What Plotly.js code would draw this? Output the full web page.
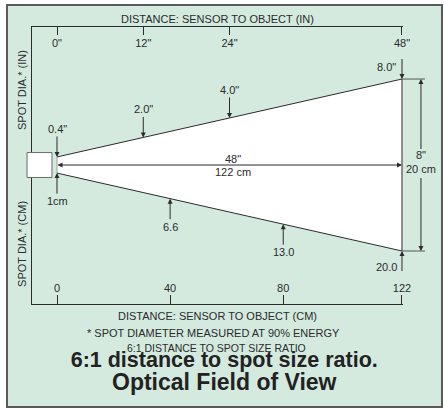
<!DOCTYPE html>
<html><head><meta charset="utf-8">
<script src="https://cdn.plot.ly/plotly-3.0.1.min.js"></script>
<style>html,body{margin:0;padding:0;background:#fff}#chart{width:444px;height:410px}</style>
</head><body><div id="chart"></div>
<script>
// ---------------- data ----------------
const distIn = [0, 12, 24, 48];
const distInLabels = ['0"', '12"', '24"', '48"'];
const distCm = [0, 40, 80, 122];
const distCmLabels = ['0', '40', '80', '122'];
const spotIn = [0.4, 2.0, 4.0, 8.0];          // spot diameter (in) at distIn
const spotInLabels = ['0.4"', '2.0"', '4.0"', '8.0"'];
const spotCm = [1, 6.6, 13.0, 20.0];           // spot diameter (cm) at distCm
const spotCmLabels = ['1cm', '6.6', '13.0', '20.0'];
const rangeLabels = ['48"', '122 cm'];
const fovLabels = ['8"', '20 cm'];

// ---------------- layout / style constants ----------------
const FONT = 'Liberation Sans, Arial, Helvetica, sans-serif';
const INK = '#2b2b2b', BG = '#d4eadf';
const xr = [-3.48, 48.14];                      // inch axis range
const cmPerIn = distCm[distCm.length - 1] / distIn[distIn.length - 1];
const xr2 = [xr[0] * cmPerIn, xr[1] * cmPerIn]; // cm axis range
const yr = [-6.465, 6.42];                      // spot diameter axis (in)
const aperture = 0.75;                          // drawn aperture (schematic)
const maxD = distIn[distIn.length - 1];
const endD = spotIn[spotIn.length - 1];
const half = x => (aperture + (endD - aperture) * x / maxD) / 2;
const toPx = v => (v - xr[0]) / (xr[1] - xr[0]);
const toPy = v => (v - yr[0]) / (yr[1] - yr[0]);
const dimOff = 2.64, extOff = 3.2;

// ---------------- traces ----------------
const coneX = [0, maxD, maxD, 0];
const coneY = [half(0), half(maxD), -half(maxD), -half(0)];
const traces = [
  {x: coneX, y: coneY, mode: 'lines', fill: 'toself', fillcolor: '#ffffff',
   line: {width: 0, color: 'rgba(0,0,0,0)'}, hoverinfo: 'skip', showlegend: false},
  {x: [0, 0], y: [half(0), -half(0)], mode: 'lines', line: {width: 1, color: '#a0a0a0'},
   hoverinfo: 'skip', showlegend: false},
  {x: coneX, y: coneY, mode: 'lines', line: {width: 1, color: INK},
   hoverinfo: 'skip', showlegend: false},
  {x: distCm, y: distCm.map(() => null), xaxis: 'x2', yaxis: 'y', mode: 'markers',
   hoverinfo: 'skip', showlegend: false}
];

// ---------------- annotations ----------------
const base = {showarrow: true, arrowhead: 2, arrowsize: 1, arrowwidth: 1, arrowcolor: INK,
  standoff: 0, font: {family: FONT, size: 11, color: INK}};
const lbl = {showarrow: false, xanchor: 'center', yanchor: 'middle', font: base.font};
const tiny = {family: FONT, size: 1, color: 'rgba(0,0,0,0)'};
const ann = [];
for (let i = 0; i < 3; i++) {
  ann.push(Object.assign({}, base, {xref: 'x', yref: 'y', x: distIn[i], y: half(distIn[i]),
    ax: 0, ay: -28, text: spotInLabels[i]}));
  const xc = distCm[i] / cmPerIn;
  ann.push(Object.assign({}, base, {xref: 'x2', yref: 'y', x: distCm[i], y: -half(xc),
    ax: 0, ay: 28, text: spotCmLabels[i]}));
}
// far-end callouts
ann.push(Object.assign({}, base, {xref: 'x', yref: 'y', x: maxD, y: half(maxD), ax: 0, ay: -21,
  text: ' ', font: tiny, borderpad: 0}));
ann.push(Object.assign({}, lbl, {xref: 'x', yref: 'y', x: maxD, y: half(maxD), xshift: -15, yshift: 12,
  text: spotInLabels[3]}));
ann.push(Object.assign({}, base, {xref: 'x2', yref: 'y', x: distCm[3], y: -half(maxD), ax: 0, ay: 21,
  text: ' ', font: tiny, borderpad: 0}));
ann.push(Object.assign({}, lbl, {xref: 'x2', yref: 'y', x: distCm[3], y: -half(maxD), xshift: -15, yshift: -16,
  text: spotCmLabels[3]}));
// center range arrow
ann.push(Object.assign({}, base, {xref: 'x', yref: 'y', x: maxD, y: 0, axref: 'x', ayref: 'y',
  ax: distIn[0], ay: 0, arrowside: 'end+start', text: ' ', font: tiny, borderpad: 0}));
ann.push(Object.assign({}, lbl, {xref: 'x', yref: 'y', x: maxD / 2, y: 0, xshift: 3, yshift: 6,
  text: rangeLabels[0]}));
ann.push(Object.assign({}, lbl, {xref: 'x', yref: 'y', x: maxD / 2, y: 0, xshift: 3, yshift: -7,
  text: rangeLabels[1]}));
// field-of-view dimension at the far end
const dimX = toPx(maxD + dimOff);
ann.push(Object.assign({}, base, {xref: 'paper', yref: 'y', x: dimX, y: endD / 2, ax: 0,
  ayref: 'y', ay: 0.7, text: ' ', font: tiny, borderpad: 0}));
ann.push(Object.assign({}, base, {xref: 'paper', yref: 'y', x: dimX, y: -endD / 2, ax: 0,
  ayref: 'y', ay: -0.56, text: ' ', font: tiny, borderpad: 0}));
ann.push(Object.assign({}, lbl, {xref: 'paper', yref: 'y', x: dimX, y: 0, yshift: 3,
  text: fovLabels.join('<br>')}));
// side labels
ann.push(Object.assign({}, lbl, {xref: 'paper', yref: 'y', x: toPx(-4.87), y: 3.49, textangle: -90,
  text: 'SPOT DIA.* (IN)'}));
ann.push(Object.assign({}, lbl, {xref: 'paper', yref: 'y', x: toPx(-4.87), y: -3.67, textangle: -90,
  text: 'SPOT DIA.* (CM)'}));
// notes
ann.push(Object.assign({}, lbl, {xref: 'paper', yref: 'paper', x: 0.489, y: toPy(-7.81),
  text: '* SPOT DIAMETER MEASURED AT 90% ENERGY'}));
ann.push(Object.assign({}, lbl, {xref: 'paper', yref: 'paper', x: 0.497, y: toPy(-8.53),
  text: '6:1 DISTANCE TO SPOT SIZE RATIO', font: {family: FONT, size: 10.5, color: INK}}));
// second title line
ann.push(Object.assign({}, lbl, {xref: 'paper', yref: 'paper', x: 0.52, y: toPy(-10.09),
  text: 'Optical Field of View', font: {family: FONT, size: 23, weight: 700, color: '#222'}}));

// ---------------- shapes ----------------
const shapes = [
  {type: 'rect', xref: 'paper', yref: 'paper', x0: -0.0674, x1: 1.1051, y0: -0.3718, y1: 1.0794,
   fillcolor: BG, line: {color: '#5a5a5a', width: 2}, layer: 'below'},
  {type: 'rect', xref: 'paper', yref: 'y', x0: toPx(-4.17), x1: toPx(-0.70), y0: -0.58, y1: 0.58,
   fillcolor: '#ffffff', line: {color: '#6a6a6a', width: 1}, layer: 'above'},
  {type: 'line', xref: 'paper', yref: 'y', x0: toPx(maxD), x1: toPx(maxD + extOff), y0: endD / 2, y1: endD / 2,
   line: {color: '#555', width: 1}, layer: 'above'},
  {type: 'line', xref: 'paper', yref: 'y', x0: toPx(maxD), x1: toPx(maxD + extOff), y0: -endD / 2, y1: -endD / 2,
   line: {color: '#555', width: 1}, layer: 'above'}
];

const axisCommon = {showgrid: false, zeroline: false, showline: true, linecolor: INK, linewidth: 1,
  ticks: 'inside', tickwidth: 1, tickcolor: INK, ticklabelposition: 'inside', ticklabeloverflow: 'allow',
  tickfont: {family: FONT, size: 11, color: INK}, fixedrange: true};

const layout = {
  width: 444, height: 410,
  margin: {l: 32, r: 41, t: 27, b: 106, pad: 0},
  paper_bgcolor: '#ffffff', plot_bgcolor: 'rgba(0,0,0,0)',
  showlegend: false,
  font: {family: FONT, color: INK},
  title: {text: '6:1 distance to spot size ratio.',
    font: {family: FONT, size: 21.5, weight: 700, color: '#222'},
    xref: 'container', yref: 'container', x: 0.505, y: 1 - 359 / 410,
    xanchor: 'center', yanchor: 'middle'},
  xaxis: Object.assign({}, axisCommon, {side: 'top', anchor: 'y', range: xr, ticklen: 8, ticklabelstandoff: 4,
    tickmode: 'array', tickvals: distIn, ticktext: distInLabels,
    title: {text: 'DISTANCE: SENSOR TO OBJECT (IN)', standoff: 11, font: {family: FONT, size: 11, color: INK}}}),
  xaxis2: Object.assign({}, axisCommon, {side: 'bottom', anchor: 'y', overlaying: 'x', range: xr2, ticklen: 9,
    tickmode: 'array', tickvals: distCm, ticktext: distCmLabels,
    title: {text: 'DISTANCE: SENSOR TO OBJECT (CM)', standoff: 19, font: {family: FONT, size: 11, color: INK}}}),
  yaxis: {range: yr, showgrid: false, zeroline: false, showline: true, linecolor: INK, linewidth: 1,
    ticks: '', showticklabels: false, fixedrange: true},
  annotations: ann,
  shapes: shapes
};

Plotly.newPlot('chart', traces, layout, {staticPlot: true, displayModeBar: false});
</script>
</body></html>
